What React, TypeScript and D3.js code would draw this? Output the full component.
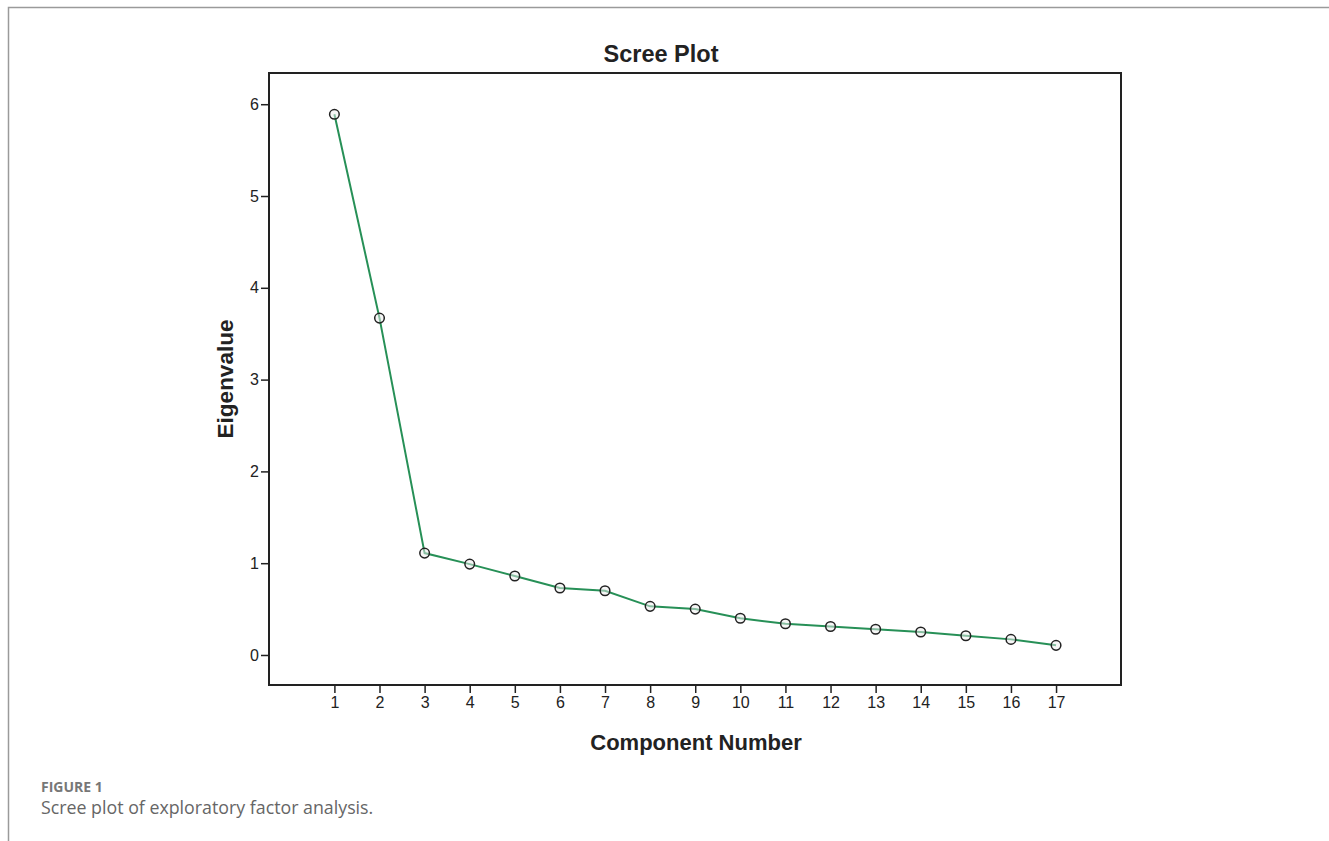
import React, { useEffect, useRef } from "react";
import * as d3 from "d3";

const components = [1, 2, 3, 4, 5, 6, 7, 8, 9, 10, 11, 12, 13, 14, 15, 16, 17];
const eigenvalues = [5.89, 3.67, 1.11, 0.99, 0.86, 0.73, 0.7, 0.53, 0.5, 0.4, 0.34, 0.31, 0.28, 0.25, 0.21, 0.17, 0.105];
const yTicks = [0, 1, 2, 3, 4, 5, 6];

const App = () => {
  const ref = useRef<SVGSVGElement | null>(null);

  useEffect(() => {
    const width = 1329,
      height = 841;
    const plot = { left: 269, top: 73, right: 1121, bottom: 685 };

    const svg = d3.select(ref.current);
    svg.selectAll("*").remove();

    // outer figure frame (top + left only)
    svg
      .append("path")
      .attr("d", `M8.5,${height} V7.5 H${width}`)
      .attr("fill", "none")
      .attr("stroke", "#9a9a9a")
      .attr("stroke-width", 1.5);

    const x = d3.scaleLinear().domain([-0.45, 18.44]).range([plot.left, plot.right]);
    const y = d3.scaleLinear().domain([-0.327, 6.34]).range([plot.bottom, plot.top]);

    const font = "Liberation Sans";

    // plot frame
    svg
      .append("rect")
      .attr("x", plot.left)
      .attr("y", plot.top)
      .attr("width", plot.right - plot.left)
      .attr("height", plot.bottom - plot.top)
      .attr("fill", "white")
      .attr("stroke", "#222")
      .attr("stroke-width", 2);

    // y axis
    const gy = svg
      .append("g")
      .attr("transform", `translate(${plot.left},0)`)
      .call(d3.axisLeft(y).tickValues(yTicks).tickSize(8).tickPadding(2).tickFormat(d3.format("d")));
    gy.attr("font-family", null).attr("font-size", null);
    gy.select(".domain").remove();
    gy.selectAll("line").attr("stroke", "#222").attr("stroke-width", 1.5);
    gy.selectAll("text")
      .attr("fill", "#222")
      .style("font-family", font)
      .style("font-size", "16px");

    // x axis
    const gx = svg
      .append("g")
      .attr("transform", `translate(0,${plot.bottom})`)
      .call(d3.axisBottom(x).tickValues(components).tickSize(8).tickPadding(4).tickFormat(d3.format("d")));
    gx.attr("font-family", null).attr("font-size", null);
    gx.select(".domain").remove();
    gx.selectAll("line").attr("stroke", "#222").attr("stroke-width", 1.5);
    gx.selectAll("text")
      .attr("fill", "#222")
      .style("font-family", font)
      .style("font-size", "16px");

    const data = components.map((c, i) => ({ c, v: eigenvalues[i] }));

    svg
      .append("path")
      .datum(data)
      .attr("fill", "none")
      .attr("stroke", "#279057")
      .attr("stroke-width", 2)
      .attr(
        "d",
        d3
          .line<{ c: number; v: number }>()
          .x((d) => x(d.c))
          .y((d) => y(d.v))
      );

    svg
      .append("g")
      .selectAll("circle")
      .data(data)
      .join("circle")
      .attr("cx", (d) => x(d.c))
      .attr("cy", (d) => y(d.v))
      .attr("r", 4.8)
      .attr("fill", "#eeeeee")
      .attr("fill-opacity", 0.5)
      .attr("stroke", "#222")
      .attr("stroke-width", 1.5);

    // titles
    svg
      .append("text")
      .attr("x", 661)
      .attr("y", 62)
      .attr("text-anchor", "middle")
      .style("font-family", font)
      .style("font-weight", "bold")
      .style("font-size", "23.5px")
      .attr("fill", "#222")
      .text("Scree Plot");

    svg
      .append("text")
      .attr("transform", `translate(233,379) rotate(-90)`)
      .attr("text-anchor", "middle")
      .style("font-family", font)
      .style("font-weight", "bold")
      .style("font-size", "22.5px")
      .attr("fill", "#222")
      .text("Eigenvalue");

    svg
      .append("text")
      .attr("x", 696)
      .attr("y", 750)
      .attr("text-anchor", "middle")
      .style("font-family", font)
      .style("font-weight", "bold")
      .style("font-size", "22px")
      .attr("fill", "#222")
      .text("Component Number");

    // caption
    svg
      .append("text")
      .attr("x", 41)
      .attr("y", 792)
      .style("font-family", "Open Sans")
      .style("font-weight", "bold")
      .style("font-size", "14px")
      .attr("fill", "#777")
      .text("FIGURE 1");

    svg
      .append("text")
      .attr("x", 41)
      .attr("y", 814)
      .style("font-family", "Open Sans")
      .style("font-size", "17.8px")
      .attr("fill", "#666")
      .text("Scree plot of exploratory factor analysis.");
  }, []);

  return (
    <svg
      ref={ref}
      width={1329}
      height={841}
      style={{ position: "absolute", left: 0, top: 0, display: "block", background: "white" }}
    />
  );
};

export default App;
